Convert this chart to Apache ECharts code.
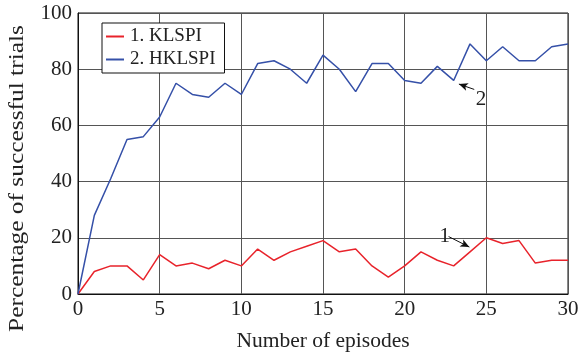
<!DOCTYPE html>
<html>
<head>
<meta charset="utf-8">
<script src="https://cdn.jsdelivr.net/npm/echarts@6/dist/echarts.min.js"></script>
<style>
    html, body { margin: 0; padding: 0; background: #fff; }
    #chart { width: 579px; height: 353px; }
</style>
</head>
<body>
<div id="chart"></div>
<script>
const episodes = [0, 1, 2, 3, 4, 5, 6, 7, 8, 9, 10, 11, 12, 13, 14, 15, 16, 17, 18, 19, 20, 21, 22, 23, 24, 25, 26, 27, 28, 29, 30];
const klspi = [0, 8, 10, 10, 5, 14, 10, 11, 9, 12, 10, 16, 12, 15, 17, 19, 15, 16, 10, 6, 10, 15, 12, 10, 15, 20, 18, 19, 11, 12, 12];
const hklspi = [0, 28, 41, 55, 56, 63, 75, 71, 70, 75, 71, 82, 83, 80, 75, 85, 80, 72, 82, 82, 76, 75, 81, 76, 89, 83, 88, 83, 83, 88, 89];
const seriesNames = ['1. KLSPI', '2. HKLSPI'];

(function () {
    const chart = echarts.init(document.getElementById('chart'));
    const font = 'Liberation Serif';
    const ink = '#222';

    function pairs(values) {
        return episodes.map(function (x, i) {
            return [x, values[i]];
        });
    }

    /*arrows + "1" / "2" callouts, placed in data coords*/
    const arrows = {
        silent: true,
        symbol: ['none', 'arrow'],
        symbolSize: [6, 9],
        label: {show: false},
        lineStyle: {color: '#111', width: 1, type: 'solid'},
        data: [
            [{coord: [22.69, 20.45]}, {coord: [23.96, 16.7]}],
            [{coord: [24.26, 72.8]}, {coord: [23.32, 74.7]}]
        ]
    };
    const callouts = {
        silent: true,
        symbol: 'circle',
        symbolSize: 1,
        itemStyle: {color: 'rgba(0,0,0,0)'},
        label: {
            show: true,
            position: 'inside',
            formatter: '{b}',
            fontFamily: font,
            fontSize: 21,
            color: ink
        },
        data: [
            {name: '1', coord: [22.46, 20.4]},
            {name: '2', coord: [24.67, 69.2]}
        ]
    };

    const option = {
        animation: false,
        backgroundColor: '#fff',
        grid: {
            left: 78,
            right: 11,
            top: 13,
            bottom: 59,
            outerBoundsMode: 'none',
            show: true,
            borderColor: '#111',
            borderWidth: 1
        },
        legend: {
            data: seriesNames,
            orient: 'vertical',
            left: 102,
            top: 23,
            padding: [4, 9, 4, 4],
            itemGap: 4,
            itemWidth: 18,
            itemHeight: 2,
            icon: 'rect',
            backgroundColor: '#fff',
            borderColor: '#111',
            borderWidth: 1,
            textStyle: {fontFamily: font, fontSize: 19, color: ink, padding: [0, 0, 0, 1]}
        },
        /*y title drawn separately: it sits lower than the axis middle and is stretched along its length*/
        graphic: [{
            type: 'text',
            x: 18,
            y: 178.5,
            rotation: Math.PI / 2,
            scaleX: 1.27,
            scaleY: 1,
            style: {
                text: 'Percentage of successful trials',
                fontFamily: font,
                fontSize: 20,
                fill: ink,
                align: 'center',
                verticalAlign: 'middle'
            }
        }],
        xAxis: {
            type: 'value',
            min: 0,
            max: 30,
            interval: 5,
            name: 'Number of episodes',
            nameLocation: 'middle',
            nameGap: 36,
            nameTextStyle: {fontFamily: font, fontSize: 21.5, color: ink},
            axisLine: {lineStyle: {color: '#111', width: 1}},
            axisTick: {show: false},
            axisLabel: {fontFamily: font, fontSize: 21, color: ink, margin: 5},
            splitLine: {show: true, lineStyle: {color: '#555', width: 1}}
        },
        yAxis: {
            type: 'value',
            min: 0,
            max: 100,
            interval: 20,
            axisLine: {lineStyle: {color: '#111', width: 1}},
            axisTick: {show: false},
            axisLabel: {fontFamily: font, fontSize: 21, color: ink, margin: 6},
            splitLine: {show: true, lineStyle: {color: '#555', width: 1}}
        },
        series: [
            {
                name: seriesNames[0],
                type: 'line',
                symbol: 'none',
                data: pairs(klspi),
                color: '#e8232b',
                lineStyle: {width: 1.5},
                markLine: arrows,
                markPoint: callouts,
                z: 3
            },
            {
                name: seriesNames[1],
                type: 'line',
                symbol: 'none',
                data: pairs(hklspi),
                color: '#3550a8',
                lineStyle: {width: 1.5},
                z: 3
            }
        ]
    };

    chart.setOption(option);
})();
</script>
</body>
</html>
